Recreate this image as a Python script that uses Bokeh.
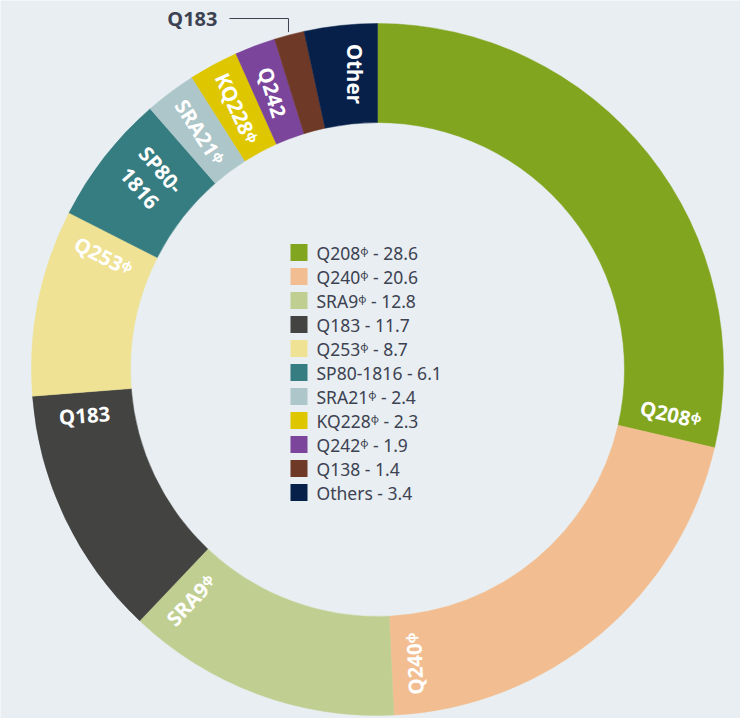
import math
from bokeh.plotting import figure
from bokeh.models import Range1d
from bokeh.embed import file_html
from bokeh.resources import INLINE
from bokeh.core.properties import value

# ---- data ----
names = ["Q208", "Q240", "SRA9", "Q183", "Q253", "SP80-1816", "SRA21", "KQ228", "Q242", "Q138", "Others"]
values = [28.6, 20.6, 12.8, 11.7, 8.7, 6.1, 2.4, 2.3, 1.9, 1.4, 3.4]
colors = ["#81a51e", "#f2be91", "#c0cf91", "#434341", "#efe294", "#367d82",
          "#adc6c9", "#dec700", "#7b459b", "#6f3927", "#07204a"]
ring_labels = ["Q208ᵠ", "Q240ᵠ", "SRA9ᵠ", "Q183", "Q253ᵠ", "SP80-\n1816",
               "SRA21ᵠ", "KQ228ᵠ", "Q242", "", "Other"]
legend_labels = ["Q208ᵠ - 28.6", "Q240ᵠ - 20.6", "SRA9ᵠ  - 12.8", "Q183 - 11.7",
                 "Q253ᵠ - 8.7", "SP80-1816 - 6.1", "SRA21ᵠ - 2.4", "KQ228ᵠ - 2.3",
                 "Q242ᵠ - 1.9", "Q138 - 1.4", "Others - 3.4"]
callout_label = "Q183"
callout_index = 9

# ---- layout ----
W, H = 740, 718
BG = "#e8eef1"
TXT = "#3d4252"
cx, cy = 377, 349
r_in, r_out = 247, 346
r_mid = (r_in + r_out) / 2

p = figure(width=W, height=H, x_range=Range1d(0, W), y_range=Range1d(0, H),
           output_backend="svg", toolbar_location=None, min_border=0,
           outline_line_color=None, background_fill_color=BG, border_fill_color=BG)
p.xaxis.visible = False
p.yaxis.visible = False
p.xgrid.visible = False
p.ygrid.visible = False

total = sum(values)
starts, ends = [], []
acc = 0.0
for v in values:
    starts.append(acc / total * 2 * math.pi)
    acc += v
    ends.append(acc / total * 2 * math.pi)

# clockwise from 12 o'clock
p.annular_wedge(x=cx, y=cy, inner_radius=r_in, outer_radius=r_out,
                start_angle=[math.pi / 2 - s for s in starts],
                end_angle=[math.pi / 2 - e for e in ends],
                direction="clock", fill_color=colors, line_color=colors, line_width=0.5)

# ring labels
lx, ly, la, lt = [], [], [], []
for s, e, lab in zip(starts, ends, ring_labels):
    if not lab:
        continue
    nlines = lab.count("\n") + 1
    dth = 23 * nlines / r_mid
    th = max((s + e) / 2, e - dth)
    lx.append(cx + r_mid * math.sin(th))
    ly.append(cy + r_mid * math.cos(th))
    a = math.pi / 2 - e
    if e > 0.75 * math.pi:
        a += math.pi
    a = (a + math.pi) % (2 * math.pi) - math.pi
    la.append(a)
    lt.append(lab)
p.text(x=lx, y=ly, text=lt, angle=la, text_align="center", text_baseline="middle",
       text_color="white", text_font=value("Noto Sans"), text_font_style="bold",
       text_font_size="20.5px", text_line_height=1.0)

# legend (drawn in the hole)
n = len(names)
leg_x, leg_y0, pitch = 298.5, 466, 24
p.rect(x=[leg_x] * n, y=[leg_y0 - i * pitch for i in range(n)], width=17, height=17,
       fill_color=colors, line_color=None)
p.text(x=[leg_x + 17.5] * n, y=[leg_y0 - i * pitch for i in range(n)], text=legend_labels,
       text_align="left", text_baseline="middle", text_color=TXT,
       text_font=value("Noto Sans"), text_font_size="17.5px")

# callout for small slice
mid = (starts[callout_index] + ends[callout_index]) / 2
ax = cx + (r_out + 3) * math.sin(mid)
ay = cy + (r_out + 3) * math.cos(mid)
top_y = 700
p.line(x=[ax, ax, ax - 59], y=[ay, top_y, top_y], line_color="#3d4252", line_width=1)
p.text(x=[ax - 71], y=[top_y], text=[callout_label], text_align="right", text_baseline="middle",
       text_color=TXT, text_font=value("Noto Sans"), text_font_style="bold", text_font_size="20px")

html = file_html(p, INLINE)
html = html.replace("<body>", '<body style="background-color:%s;">' % BG, 1)
open("out.html", "w").write(html)
